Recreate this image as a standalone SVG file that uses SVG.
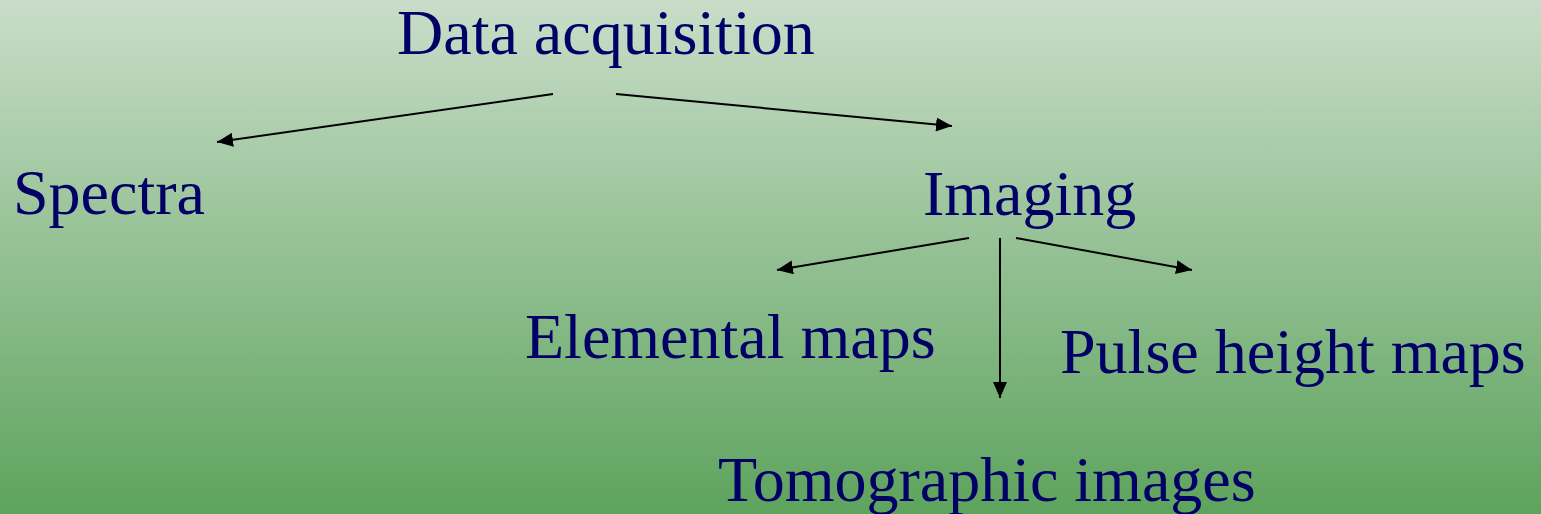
<svg xmlns="http://www.w3.org/2000/svg" width="1541" height="514" viewBox="0 0 1541 514">
  <defs>
    <linearGradient id="bg" x1="0" y1="0" x2="0" y2="1">
      <stop offset="0" stop-color="#c9ddc9"/>
      <stop offset="1" stop-color="#5da35d"/>
    </linearGradient>
    <marker id="arr" markerUnits="userSpaceOnUse" markerWidth="16" markerHeight="14" refX="16" refY="7" orient="auto">
      <path d="M0,0 L16,7 L0,14 z" fill="#000"/>
    </marker>
  </defs>
  <style>
    .t { font-family: "Liberation Serif", "Times New Roman", serif; font-size: 64px; fill: #000066; }
    .c { stroke: #000; stroke-width: 2; fill: none; marker-end: url(#arr); }
  </style>
  <rect x="0" y="0" width="1541" height="514" fill="url(#bg)"/>
  <g id="connectors">
    <line class="c" x1="553" y1="94" x2="217" y2="142"/>
    <line class="c" x1="616" y1="94" x2="952" y2="126"/>
    <line class="c" x1="969" y1="238" x2="777" y2="270"/>
    <line class="c" x1="1000" y1="238" x2="1000" y2="398"/>
    <line class="c" x1="1016" y1="238" x2="1192" y2="270"/>
  </g>
  <g id="data-acquisition"><text class="t" x="397" y="54">Data acquisition</text></g>
  <g id="spectra"><text class="t" x="13" y="214">Spectra</text></g>
  <g id="imaging"><text class="t" x="923" y="215">Imaging</text></g>
  <g id="elemental-maps"><text class="t" x="525" y="358">Elemental maps</text></g>
  <g id="pulse-height-maps"><text class="t" x="1060" y="373">Pulse height maps</text></g>
  <g id="tomographic-images"><text class="t" x="718" y="501">Tomographic images</text></g>
</svg>
